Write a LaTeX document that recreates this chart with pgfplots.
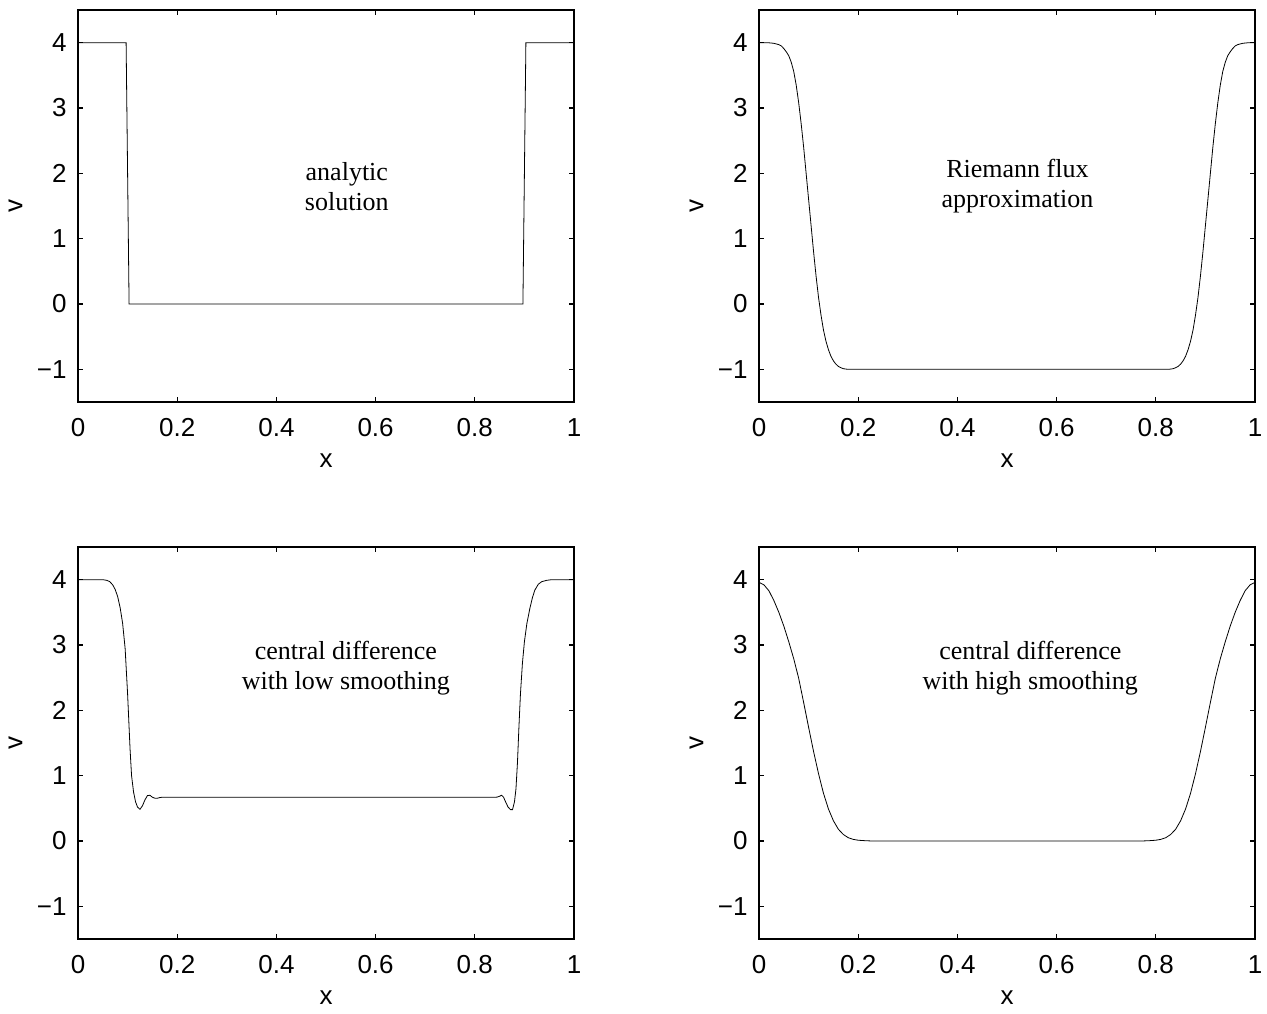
\documentclass[border=0pt]{standalone}
\usepackage{fontspec}
\setmainfont{Liberation Sans}
\newfontfamily\annfont{Liberation Serif}
\usepackage{pgfplots}
\pgfplotsset{compat=1.18}

\pgfplotsset{
  panel/.style={
    scale only axis, width=248pt, height=196pt,
    xmin=0, xmax=1, ymin=-1.5, ymax=4.5,
    xtick={0,0.2,0.4,0.6,0.8,1}, xticklabels={0,0.2,0.4,0.6,0.8,1},
    ytick={-1,0,1,2,3,4}, yticklabels={−1,0,1,2,3,4},
    tick align=inside, major tick length=2.5pt,
    axis line style={line width=0.8pt},
    every tick/.style={black, line width=0.6pt},
    ticklabel style={font=\fontsize{13}{15}\selectfont},
    xticklabel style={anchor=north, inner sep=0pt, yshift=-8pt},
    yticklabel style={anchor=east, inner sep=0pt, xshift=-5.5pt},
    xlabel={x}, ylabel={v},
    label style={font=\fontsize{13}{15}\selectfont},
    xlabel style={at={(axis description cs:0.5,-0.168)}, anchor=base},
    ylabel style={at={(axis description cs:-0.126,0.5)}, anchor=center},
    cycle list={{black, line width=0.7pt, no markers}},
  },
}
\tikzset{note/.style={font=\annfont\fontsize{13}{15}\selectfont, align=center}}

\begin{document}
\begin{tikzpicture}
\useasboundingbox (0,0) rectangle (633.5pt,506.5pt);

% analytic solution
\begin{axis}[panel, at={(39pt,305.5pt)}, anchor=south west]
\addplot coordinates {(0,4) (0.097,4) (0.103,0) (0.897,0) (0.903,4) (1,4)};
\node[note] at (axis cs:0.542,1.79) {analytic\\solution};
\end{axis}

% Riemann flux
\begin{axis}[panel, at={(379.5pt,305.5pt)}, anchor=south west]
\addplot coordinates {
(0,4) (0.02,3.998) (0.03,3.99) (0.04,3.97) (0.045,3.95) (0.05,3.91) (0.055,3.86)
(0.06,3.80) (0.065,3.70) (0.07,3.56) (0.075,3.35) (0.08,3.08) (0.085,2.76)
(0.09,2.40) (0.095,2.00) (0.1,1.60) (0.105,1.20) (0.11,0.80) (0.115,0.43)
(0.12,0.10) (0.125,-0.17) (0.13,-0.40) (0.135,-0.57) (0.14,-0.70) (0.145,-0.80)
(0.15,-0.87) (0.155,-0.92) (0.16,-0.955) (0.165,-0.975) (0.17,-0.99) (0.175,-0.996)
(0.18,-1) (0.825,-1)
(0.83,-0.996) (0.835,-0.99) (0.84,-0.975) (0.845,-0.955) (0.85,-0.92) (0.855,-0.87)
(0.86,-0.80) (0.865,-0.70) (0.87,-0.57) (0.875,-0.40) (0.88,-0.17) (0.885,0.10)
(0.89,0.43) (0.895,0.80) (0.9,1.20) (0.905,1.60) (0.91,2.00) (0.915,2.40)
(0.92,2.76) (0.925,3.08) (0.93,3.35) (0.935,3.56) (0.94,3.70) (0.945,3.80)
(0.95,3.86) (0.955,3.91) (0.96,3.95) (0.965,3.97) (0.975,3.99) (0.985,3.998) (1,4)
};
\node[note] at (axis cs:0.521,1.81) {Riemann flux\\approximation};
\end{axis}

% central difference, low smoothing
\begin{axis}[panel, at={(39pt,37pt)}, anchor=south west]
\addplot coordinates {
(0,4) (0.05,4) (0.058,3.99) (0.064,3.97) (0.07,3.92) (0.075,3.85) (0.08,3.74)
(0.085,3.57) (0.09,3.33) (0.095,2.95) (0.1,2.25) (0.105,1.40) (0.108,1.0)
(0.112,0.75) (0.116,0.60) (0.12,0.52) (0.125,0.485) (0.13,0.54) (0.135,0.63)
(0.14,0.695) (0.145,0.70) (0.15,0.67) (0.155,0.655) (0.16,0.655) (0.165,0.665)
(0.17,0.67) (0.84,0.67)
(0.845,0.672) (0.85,0.685) (0.854,0.70) (0.858,0.67) (0.862,0.60) (0.867,0.52)
(0.872,0.48) (0.876,0.48) (0.88,0.60) (0.883,0.80) (0.886,1.20) (0.889,1.75)
(0.892,2.25) (0.896,2.72) (0.9,3.05) (0.905,3.33) (0.911,3.56) (0.916,3.72)
(0.921,3.84) (0.928,3.93) (0.935,3.97) (0.945,3.99) (0.955,4) (1,4)
};
\node[note] at (axis cs:0.54,2.65) {central difference\\with low smoothing};
\end{axis}

% central difference, high smoothing
\begin{axis}[panel, at={(379.5pt,37pt)}, anchor=south west]
\addplot coordinates {
(0,3.96) (0.01,3.92) (0.02,3.83) (0.03,3.68) (0.04,3.50) (0.05,3.29) (0.06,3.05)
(0.07,2.79) (0.08,2.49) (0.09,2.12) (0.1,1.74) (0.11,1.37) (0.12,1.03) (0.13,0.73)
(0.14,0.49) (0.15,0.31) (0.16,0.18) (0.17,0.10) (0.18,0.05) (0.19,0.025)
(0.2,0.012) (0.215,0.004) (0.23,0) (0.77,0)
(0.785,0.004) (0.8,0.012) (0.81,0.025) (0.82,0.05) (0.83,0.10) (0.84,0.18)
(0.85,0.31) (0.86,0.49) (0.87,0.73) (0.88,1.03) (0.89,1.37) (0.9,1.74) (0.91,2.12)
(0.92,2.49) (0.93,2.79) (0.94,3.05) (0.95,3.29) (0.96,3.50) (0.97,3.68) (0.98,3.83)
(0.99,3.92) (1,3.96)
};
\node[note] at (axis cs:0.547,2.65) {central difference\\with high smoothing};
\end{axis}
\end{tikzpicture}
\end{document}
